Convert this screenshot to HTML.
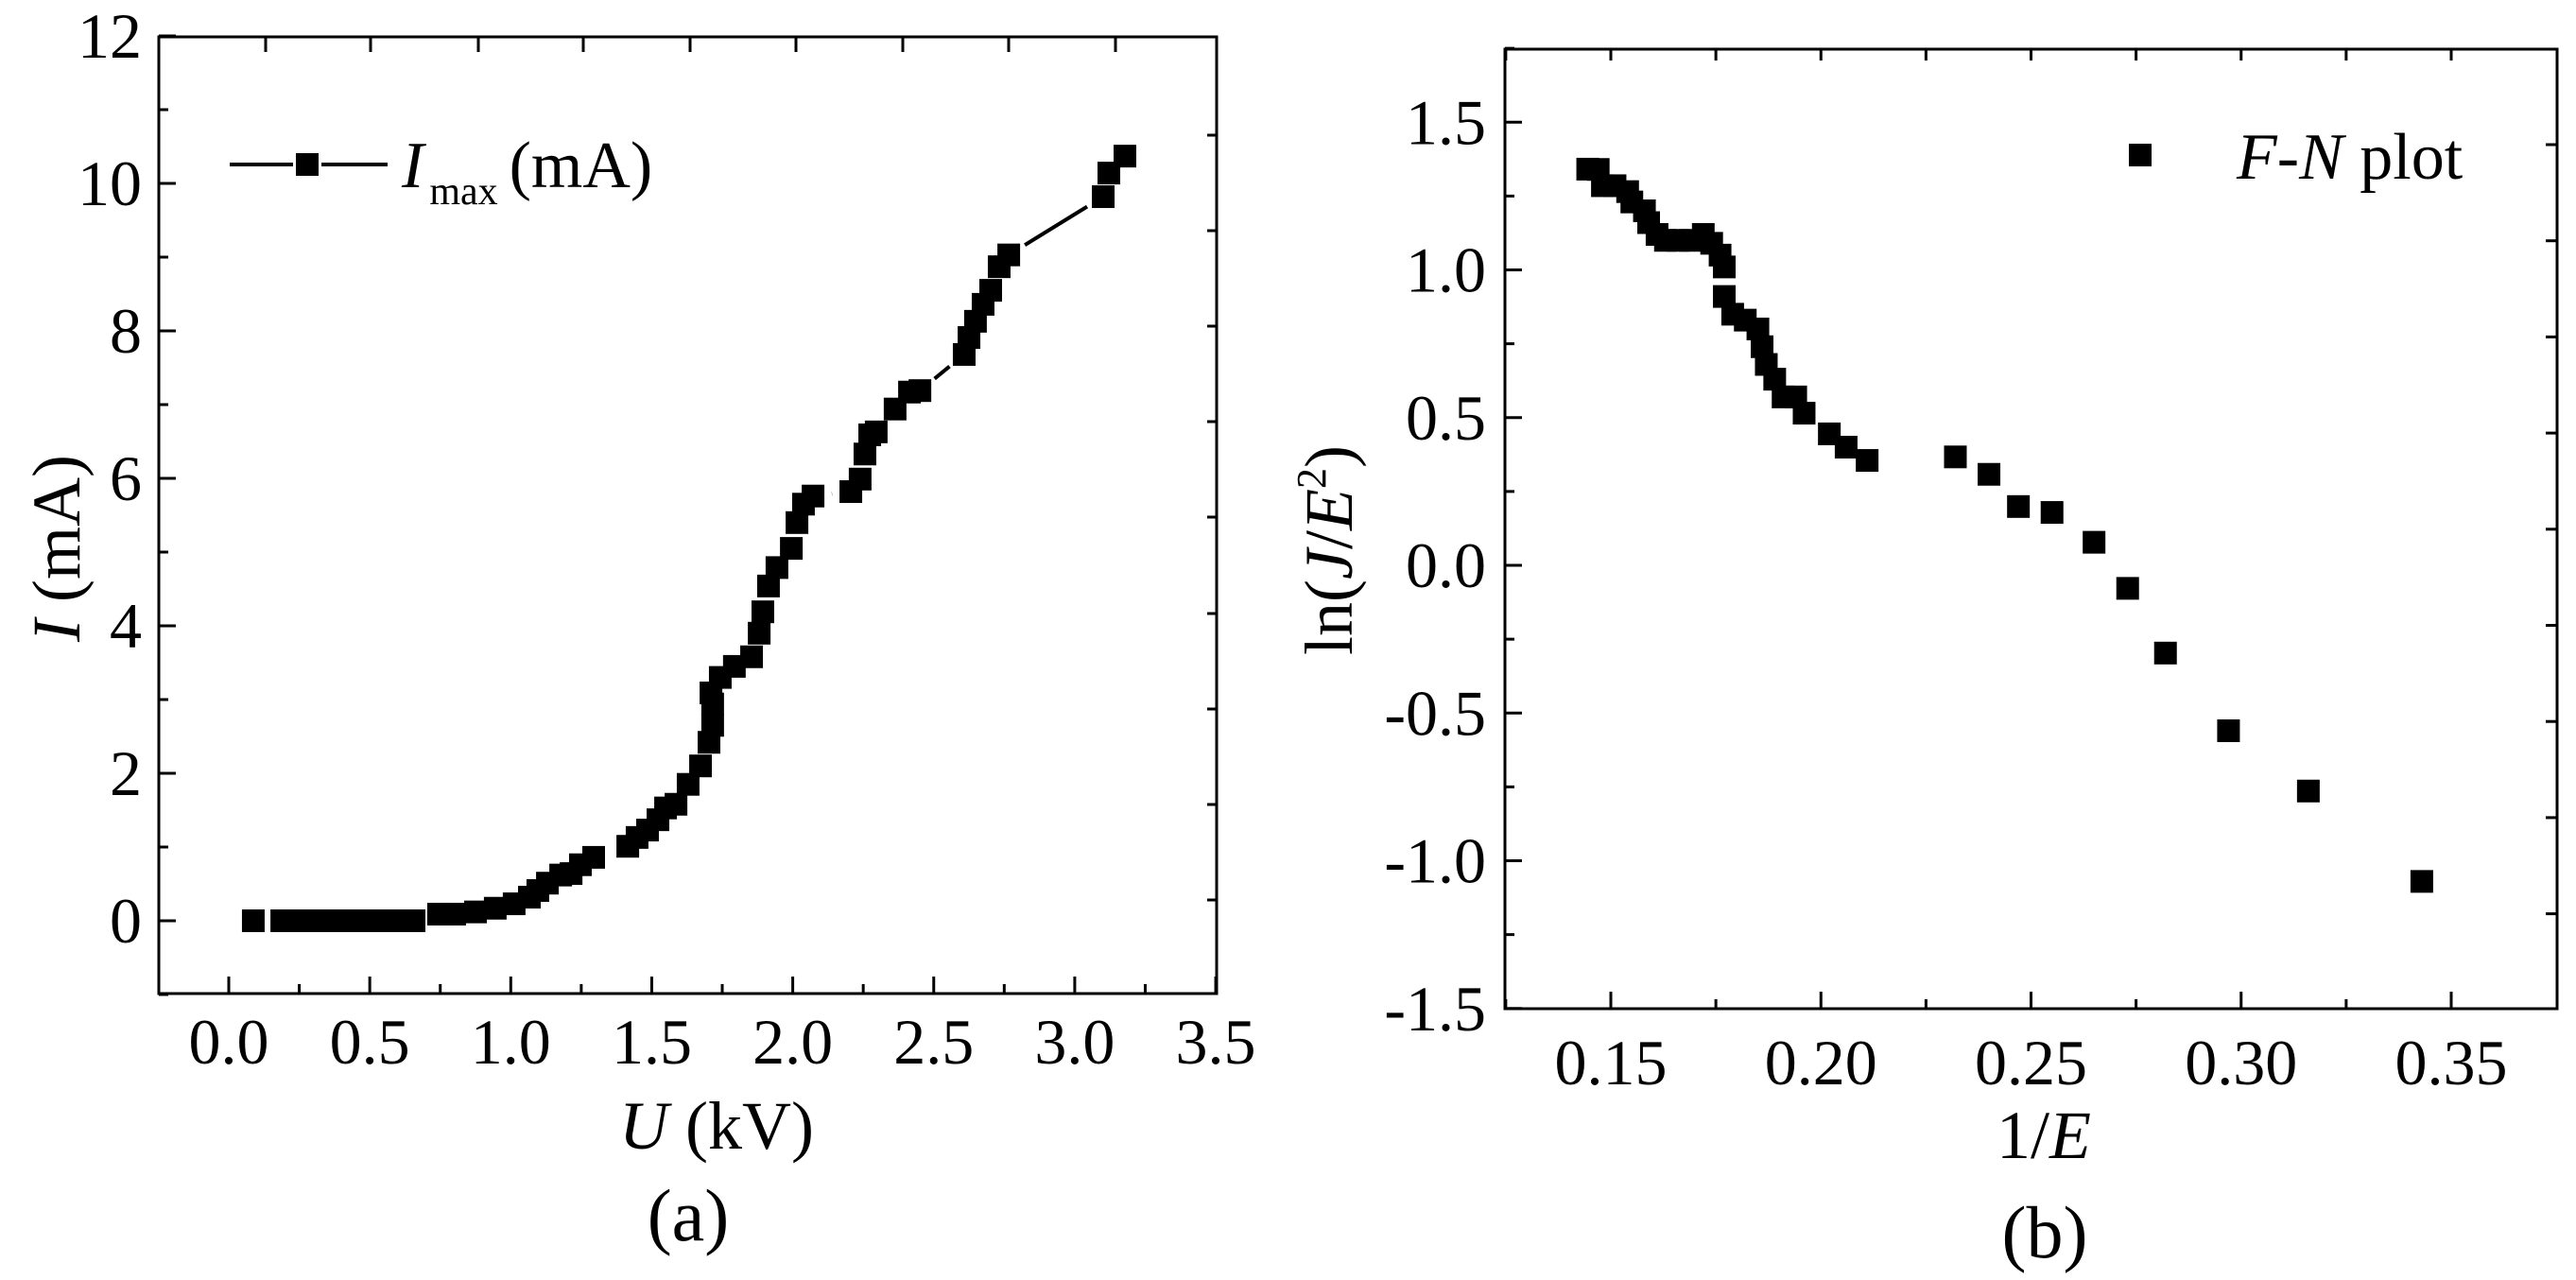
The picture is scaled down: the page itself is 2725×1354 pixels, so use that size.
<!DOCTYPE html>
<html><head><meta charset="utf-8"><style>
html,body{margin:0;padding:0;background:#fff;}
svg{display:block;font-family:"Liberation Serif","DejaVu Serif",serif;}
</style></head>
<body>
<svg id="fig" width="2725" height="1354" viewBox="0 0 2725 1354" xmlns="http://www.w3.org/2000/svg">
<g id="pa"></g>
<g id="pb"></g>
</svg>
<script>
// Panel (a) data
const aU = [0.087,0.188,0.235,0.282,0.329,0.376,0.422,0.469,0.516,0.563,0.610,0.657,0.744,0.801,0.875,0.945,1.012,1.066,1.096,1.130,1.177,1.214,1.247,1.294,1.415,1.448,1.485,1.522,1.549,1.586,1.629,1.673,1.703,1.716,1.716,1.710,1.743,1.793,1.854,1.881,1.894,1.914,1.944,1.995,2.015,2.038,2.072,2.206,2.239,2.256,2.273,2.296,2.363,2.414,2.451,2.608,2.625,2.648,2.675,2.702,2.732,2.766,3.101,3.121,3.178];
const aI = [0,0,0,0,0,0,0,0,0,0,0,0,0.09,0.09,0.12,0.17,0.23,0.32,0.41,0.51,0.62,0.64,0.76,0.86,1.01,1.13,1.23,1.37,1.53,1.58,1.85,2.10,2.42,2.65,2.94,3.09,3.30,3.45,3.58,3.90,4.19,4.54,4.79,5.05,5.40,5.65,5.76,5.82,5.99,6.33,6.59,6.63,6.94,7.17,7.19,7.68,7.91,8.13,8.36,8.55,8.87,9.03,9.82,10.14,10.37];
const aXTicks = [0,0.5,1.0,1.5,2.0,2.5,3.0,3.5];
const aXLabels = ["0.0","0.5","1.0","1.5","2.0","2.5","3.0","3.5"];
const aYTicks = [0,2,4,6,8,10,12];
const aYLabels = ["0","2","4","6","8","10","12"];
// Panel (b) data
const bX = [0.1445,0.147,0.148,0.151,0.154,0.155,0.158,0.159,0.161,0.163,0.166,0.169,0.172,0.174,0.176,0.177,0.177,0.179,0.182,0.185,0.186,0.187,0.189,0.191,0.194,0.196,0.202,0.206,0.211,0.232,0.240,0.247,0.255,0.265,0.273,0.282,0.297,0.316,0.343];
const bY = [1.341,1.34,1.285,1.285,1.265,1.23,1.2,1.16,1.12,1.10,1.10,1.10,1.12,1.09,1.05,1.01,0.91,0.85,0.83,0.80,0.74,0.68,0.63,0.57,0.57,0.515,0.445,0.40,0.355,0.367,0.308,0.199,0.179,0.078,-0.078,-0.297,-0.56,-0.764,-1.07];
const bXTicks = [0.15,0.20,0.25,0.30,0.35];
const bXLabels = ["0.15","0.20","0.25","0.30","0.35"];
const bYTicks = [-1.5,-1.0,-0.5,0,0.5,1.0,1.5];
const bYLabels = ["-1.5","-1.0","-0.5","0.0","0.5","1.0","1.5"];

const NS="http://www.w3.org/2000/svg";
function mk(parent,tag,attrs,text){const e=document.createElementNS(NS,tag);for(const k in attrs)e.setAttribute(k,attrs[k]);if(text!==undefined)e.textContent=text;parent.appendChild(e);return e;}

// ---------- Panel A ----------
const pa=document.getElementById('pa');
const aL=168,aR=1287,aT=39,aB=1051;
const ax=u=>242+(u)*298.3;
const ay=i=>974-i*78;
let f=mk(pa,'rect',{x:aL,y:aT,width:aR-aL,height:aB-aT,fill:'none',stroke:'#000','stroke-width':3});


for(let v=0;v<=3.5001;v+=0.25){const X=ax(v);const major=Math.abs(v*2-Math.round(v*2))<1e-6;mk(pa,'line',{x1:X,y1:aB,x2:X,y2:aB-(major?18:10),stroke:'#000','stroke-width':3});}
for(let v=-1;v<=12;v+=1){const Y=ay(v);const major=v%2===0;mk(pa,'line',{x1:aL,y1:Y,x2:aL+(major?18:10),y2:Y,stroke:'#000','stroke-width':3});}
[281,392,506,617,730,842,955,1067,1180].forEach(X=>mk(pa,'line',{x1:X,y1:aT,x2:X,y2:aT+16,stroke:'#000','stroke-width':3}));
[143,244,345,446,547,649,750,851,952].forEach(Y=>mk(pa,'line',{x1:aR,y1:Y,x2:aR-10,y2:Y,stroke:'#000','stroke-width':3}));
aXTicks.forEach((v,k)=>{const t=mk(pa,'text',{x:ax(v),y:1125,'font-size':68,'text-anchor':'middle'},aXLabels[k]);

});
aYTicks.forEach((v,k)=>{const t=mk(pa,'text',{x:150,y:ay(v)+23,'font-size':68,'text-anchor':'end'},aYLabels[k]);

});
const gap=20;
for(let k=0;k<aU.length-1;k++){const x1=ax(aU[k]),y1=ay(aI[k]),x2=ax(aU[k+1]),y2=ay(aI[k+1]);const d=Math.hypot(x2-x1,y2-y1);if(d>2*gap){const ux=(x2-x1)/d,uy=(y2-y1)/d;const s=mk(pa,'line',{x1:x1+ux*gap,y1:y1+uy*gap,x2:x2-ux*gap,y2:y2-uy*gap,stroke:'#000','stroke-width':4});

}}
for(let k=0;k<aU.length;k++){const m=mk(pa,'rect',{x:ax(aU[k])-12,y:ay(aI[k])-12,width:24,height:24,fill:'#000'});

}
const lg=mk(pa,'g',{});


mk(lg,'line',{x1:243,y1:174,x2:310,y2:174,stroke:'#000','stroke-width':4});
mk(lg,'line',{x1:340,y1:174,x2:410,y2:174,stroke:'#000','stroke-width':4});
mk(lg,'rect',{x:313,y:162,width:24,height:24,fill:'#000'});
const lt=mk(lg,'text',{x:425,y:198,'font-size':70});
mk(lt,'tspan',{'font-style':'italic'},'I');
mk(lt,'tspan',{'font-size':42,dy:18,dx:6},'max');
mk(lt,'tspan',{dy:-18,dx:12},'(mA)');
const yt=mk(pa,'text',{x:0,y:0,'font-size':72,'text-anchor':'middle',transform:'translate(84,580) rotate(-90)'});


mk(yt,'tspan',{'font-style':'italic'},'I');mk(yt,'tspan',{},' (mA)');
const xt=mk(pa,'text',{x:758,y:1215,'font-size':72,'text-anchor':'middle'});


mk(xt,'tspan',{'font-style':'italic'},'U');mk(xt,'tspan',{},' (kV)');
const ca=mk(pa,'text',{x:728,y:1312,'font-size':78,'text-anchor':'middle'},'(a)');



// ---------- Panel B ----------
const pb=document.getElementById('pb');
const bL=1592,bR=2705,bT=52,bB=1067;
const bx=v=>1704+(v-0.15)*4445;
const by=v=>598-v*312.5;
f=mk(pb,'rect',{x:bL,y:bT,width:bR-bL,height:bB-bT,fill:'none',stroke:'#000','stroke-width':3});


for(let k=0;k<=9;k++){const v=0.125+k*0.025;const X=bx(v);const major=k%2===1;
mk(pb,'line',{x1:X,y1:bB,x2:X,y2:bB-(major?18:10),stroke:'#000','stroke-width':3});
mk(pb,'line',{x1:X,y1:bT,x2:X,y2:bT+12,stroke:'#000','stroke-width':3});}
for(let k=0;k<=13;k++){const v=-1.5+k*0.25;const Y=by(v);const major=k%2===0;mk(pb,'line',{x1:bL,y1:Y,x2:bL+(major?18:10),y2:Y,stroke:'#000','stroke-width':3});}
for(let k=0;k<9;k++){const Y=153+k*101.7;mk(pb,'line',{x1:bR,y1:Y,x2:bR-12,y2:Y,stroke:'#000','stroke-width':3});}
bXTicks.forEach((v,k)=>{const t=mk(pb,'text',{x:bx(v),y:1147,'font-size':68,'text-anchor':'middle'},bXLabels[k]);

});
bYTicks.forEach((v,k)=>{const t=mk(pb,'text',{x:1572,y:by(v)+23,'font-size':68,'text-anchor':'end'},bYLabels[k]);

});
for(let k=0;k<bX.length;k++){const m=mk(pb,'rect',{x:bx(bX[k])-12,y:by(bY[k])-12,width:24,height:24,fill:'#000'});

}
const lb=mk(pb,'g',{});


mk(lb,'rect',{x:2252,y:152,width:24,height:24,fill:'#000'});
const lbt=mk(lb,'text',{x:2366,y:189,'font-size':70});
mk(lbt,'tspan',{'font-style':'italic'},'F');mk(lbt,'tspan',{},'-');mk(lbt,'tspan',{'font-style':'italic'},'N');mk(lbt,'tspan',{},' plot');
const ybt=mk(pb,'text',{x:0,y:0,'font-size':72,'text-anchor':'middle',transform:'translate(1430,582) rotate(-90)'});


mk(ybt,'tspan',{},'ln(');mk(ybt,'tspan',{'font-style':'italic'},'J');mk(ybt,'tspan',{},'/');mk(ybt,'tspan',{'font-style':'italic'},'E');mk(ybt,'tspan',{'font-size':44,dy:-28},'2');mk(ybt,'tspan',{dy:28},')');
const xbt=mk(pb,'text',{x:2162,y:1225,'font-size':72,'text-anchor':'middle'});


mk(xbt,'tspan',{},'1/');mk(xbt,'tspan',{'font-style':'italic'},'E');
const cb=mk(pb,'text',{x:2163,y:1330,'font-size':78,'text-anchor':'middle'},'(b)');


</script>
</body></html>
